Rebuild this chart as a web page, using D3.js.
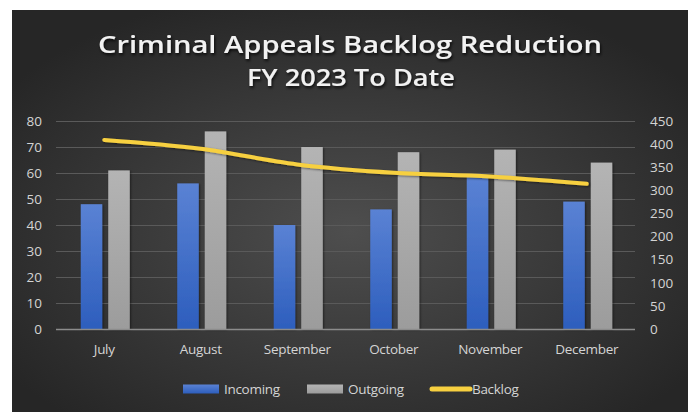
<!DOCTYPE html>
<html>
<head>
<meta charset="utf-8">
<script src="https://cdn.jsdelivr.net/npm/d3@7/dist/d3.min.js"></script>
<style>
body { margin: 0; background: #ffffff; }
svg text { font-family: "Open Sans", "Noto Sans", sans-serif; }
</style>
</head>
<body>
<script>
var months = ["July", "August", "September", "October", "November", "December"];
var incoming = [48, 56, 40, 46, 59, 49];
var outgoing = [61, 76, 70, 68, 69, 64];
var backlog = [409, 390, 356, 338, 330, 314];
var leftTicks = [0, 10, 20, 30, 40, 50, 60, 70, 80];
var rightTicks = [0, 50, 100, 150, 200, 250, 300, 350, 400, 450];

var W = 694, H = 412;
var plot = { left: 56, right: 635, top: 121, bottom: 329 };
var labelColor = "#d4d4d4";

var svg = d3.select("body").append("svg")
	.attr("width", W)
	.attr("height", H);

var defs = svg.append("defs");

var bg = defs.append("radialGradient")
	.attr("id", "bg")
	.attr("cx", "50%").attr("cy", "55%").attr("r", "62%");
bg.append("stop").attr("offset", "0%").attr("stop-color", "#4e4e4e");
bg.append("stop").attr("offset", "100%").attr("stop-color", "#262626");

var blue = defs.append("linearGradient")
	.attr("id", "blue").attr("x1", 0).attr("y1", 0).attr("x2", 0).attr("y2", 1);
blue.append("stop").attr("offset", "0%").attr("stop-color", "#5a82d4");
blue.append("stop").attr("offset", "100%").attr("stop-color", "#2d5ebd");

var gray = defs.append("linearGradient")
	.attr("id", "gray").attr("x1", 0).attr("y1", 0).attr("x2", 0).attr("y2", 1);
gray.append("stop").attr("offset", "0%").attr("stop-color", "#b4b4b4");
gray.append("stop").attr("offset", "100%").attr("stop-color", "#9c9c9c");

var shadow = defs.append("filter").attr("id", "shadow")
	.attr("x", "-10%").attr("y", "-30%").attr("width", "120%").attr("height", "160%");
shadow.append("feDropShadow")
	.attr("dx", 1).attr("dy", 2).attr("stdDeviation", 1.5)
	.attr("flood-color", "#000").attr("flood-opacity", 0.8);

var barShadow = defs.append("filter").attr("id", "barShadow")
	.attr("x", "-30%").attr("y", "-10%").attr("width", "160%").attr("height", "120%");
barShadow.append("feDropShadow")
	.attr("dx", 1).attr("dy", 1).attr("stdDeviation", 1.2)
	.attr("flood-color", "#000").attr("flood-opacity", 0.5);

svg.append("rect")
	.attr("x", 12).attr("y", 10)
	.attr("width", 676).attr("height", 402)
	.attr("fill", "url(#bg)");

// title
svg.append("text")
	.attr("x", 350).attr("y", 53)
	.attr("text-anchor", "middle")
	.attr("fill", "#f2f2f2")
	.attr("font-size", 23)
	.attr("font-weight", 600)
	.attr("textLength", 504)
	.attr("lengthAdjust", "spacingAndGlyphs")
	.attr("filter", "url(#shadow)")
	.text("Criminal  Appeals  Backlog  Reduction");

svg.append("text")
	.attr("x", 351).attr("y", 86)
	.attr("text-anchor", "middle")
	.attr("fill", "#f2f2f2")
	.attr("font-size", 23)
	.attr("font-weight", 600)
	.attr("textLength", 208)
	.attr("lengthAdjust", "spacingAndGlyphs")
	.attr("filter", "url(#shadow)")
	.text("FY 2023 To Date");

var x = d3.scaleBand()
	.domain(months)
	.range([plot.left, plot.right]);

var yL = d3.scaleLinear().domain([0, 80]).range([plot.bottom, plot.top]);
var yR = d3.scaleLinear().domain([0, 450]).range([plot.bottom, plot.top]);

// gridlines
svg.append("g")
	.selectAll("line")
	.data(leftTicks.slice(1))
	.enter().append("line")
	.attr("x1", plot.left).attr("x2", plot.right)
	.attr("y1", function(d) { return yL(d) + 0.5; })
	.attr("y2", function(d) { return yL(d) + 0.5; })
	.attr("stroke", "#5a5a5a")
	.attr("stroke-width", 1);

var axisL = d3.axisLeft(yL).tickValues(leftTicks).tickSize(0).tickPadding(14);
var gL = svg.append("g")
	.attr("transform", "translate(" + plot.left + ",0)")
	.call(axisL);
gL.select(".domain").remove();
gL.selectAll("text").attr("fill", labelColor).attr("font-size", 13.5);

var axisR = d3.axisRight(yR).tickValues(rightTicks).tickSize(0).tickPadding(15);
var gR = svg.append("g")
	.attr("transform", "translate(" + plot.right + ",0)")
	.call(axisR);
gR.select(".domain").remove();
gR.selectAll("text").attr("fill", labelColor).attr("font-size", 13.5);

// bars
var barW = 21.5, barGap = 6;
var bars = svg.append("g");
bars.selectAll(".inc")
	.data(incoming)
	.enter().append("rect")
	.attr("class", "inc")
	.attr("x", function(d, i) { return x(months[i]) + x.bandwidth() / 2 + 1 - barGap / 2 - barW; })
	.attr("y", function(d) { return yL(d); })
	.attr("width", barW)
	.attr("height", function(d) { return yL(0) - yL(d); })
	.attr("fill", "url(#blue)")
	.attr("filter", "url(#barShadow)");

bars.selectAll(".out")
	.data(outgoing)
	.enter().append("rect")
	.attr("class", "out")
	.attr("x", function(d, i) { return x(months[i]) + x.bandwidth() / 2 + 1 + barGap / 2; })
	.attr("y", function(d) { return yL(d); })
	.attr("width", barW)
	.attr("height", function(d) { return yL(0) - yL(d); })
	.attr("fill", "url(#gray)")
	.attr("filter", "url(#barShadow)");

// baseline
svg.append("line")
	.attr("x1", plot.left).attr("x2", plot.right)
	.attr("y1", plot.bottom + 0.5).attr("y2", plot.bottom + 0.5)
	.attr("stroke", "#8c8c8c")
	.attr("stroke-width", 1.5);

// month labels
var axisX = d3.axisBottom(x).tickSize(0).tickPadding(15);
var gX = svg.append("g")
	.attr("transform", "translate(0," + plot.bottom + ")")
	.call(axisX);
gX.select(".domain").remove();
gX.selectAll("text").attr("fill", labelColor).attr("font-size", 13.5)
	.attr("letter-spacing", -0.3);

// backlog line
var line = d3.line()
	.x(function(d, i) { return x(months[i]) + x.bandwidth() / 2; })
	.y(function(d) { return yR(d); })
	.curve(d3.curveCatmullRom.alpha(0.5));

svg.append("path")
	.datum(backlog)
	.attr("fill", "none")
	.attr("stroke", "#f7d040")
	.attr("stroke-width", 4)
	.attr("stroke-linecap", "round")
	.attr("filter", "url(#barShadow)")
	.attr("d", line);

// legend
var legend = svg.append("g").attr("transform", "translate(0,389)");
var items = [
	{ name: "Incoming", x: 183, type: "rect", fill: "url(#blue)" },
	{ name: "Outgoing", x: 307, type: "rect", fill: "url(#gray)" },
	{ name: "Backlog", x: 430, type: "line", fill: "#f7d040" }
];
items.forEach(function(it) {
	if (it.type === "rect") {
		legend.append("rect")
			.attr("x", it.x).attr("y", -4.5)
			.attr("width", 36).attr("height", 9)
			.attr("fill", it.fill);
	} else {
		legend.append("line")
			.attr("x1", it.x + 2).attr("x2", it.x + 40)
			.attr("y1", 0).attr("y2", 0)
			.attr("stroke", it.fill)
			.attr("stroke-width", 5)
			.attr("stroke-linecap", "round");
	}
	legend.append("text")
		.attr("x", it.x + (it.type === "rect" ? 41 : 42))
		.attr("y", 5)
		.attr("fill", labelColor)
		.attr("font-size", 13.5)
		.attr("letter-spacing", -0.3)
		.text(it.name);
});
</script>
</body>
</html>
